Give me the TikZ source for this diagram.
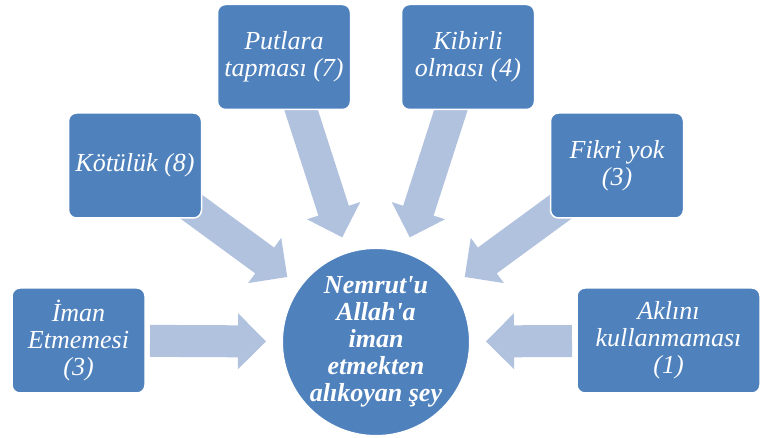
\documentclass[tikz,border=0pt]{standalone}
\usepackage{fontspec}
\setmainfont{Liberation Serif}
\usetikzlibrary{calc,backgrounds}
\definecolor{boxblue}{HTML}{4F81BD}
\definecolor{arrblue}{HTML}{B0C2DD}
\newcommand\radarrow[2]{%
  \coordinate (#1-t) at ($(core)!110pt!(#1)$);
  \coordinate (#1-h) at ($(core)!138pt!(#1)$);
  \coordinate (#1-s) at ($(core)!#2!(#1)$);
  \fill[arrblue] (#1-t) -- ($(#1-h)!28pt!90:(core)$) -- ($(#1-h)!16pt!90:(core)$)
    -- ($(#1-s)!16pt!90:(core)$) -- ($(#1-s)!16pt!-90:(core)$)
    -- ($(#1-h)!16pt!-90:(core)$) -- ($(#1-h)!28pt!-90:(core)$) -- cycle;
}
\tikzset{
  box/.style={rectangle, rounded corners=8pt, fill=boxblue, draw=white, line width=1.5pt,
    text=white, align=center, inner sep=0pt, minimum height=105pt, minimum width=133pt,
    font=\fontsize{26}{27}\selectfont\itshape},
  core/.style={circle, fill=boxblue, draw=white, line width=1pt, text=white, align=center,
    inner sep=0pt, minimum size=187pt, font=\fontsize{26}{27}\selectfont\bfseries\itshape}
}
\begin{document}
\begin{tikzpicture}[x=1pt,y=1pt]
\useasboundingbox (0,0) rectangle (764,437);
\node[core] (core) at (376,95) {Nemrut\textquotesingle u\\Allah\textquotesingle a\\iman\\etmekten\\alıkoyan şey};
\node[box] (iman) at (78.5,96.5) {İman\\Etmemesi\\(3)};
\node[box] (kot) at (135,271.5) {Kötülük (8)};
\node[box] (put) at (284,380) {Putlara\\tapması (7)};
\node[box] (kib) at (468,380) {Kibirli\\olması (4)};
\node[box] (fik) at (617,271.5) {Fikri yok\\(3)};
\node[box, minimum width=183pt] (akl) at (668.5,96.5) {Aklını\\kullanmaması\\(1)};
\begin{scope}[on background layer]
\radarrow{iman}{226pt}
\radarrow{kot}{250pt}
\radarrow{put}{250pt}
\radarrow{kib}{250pt}
\radarrow{fik}{250pt}
\radarrow{akl}{196pt}
\end{scope}
\end{tikzpicture}
\end{document}
